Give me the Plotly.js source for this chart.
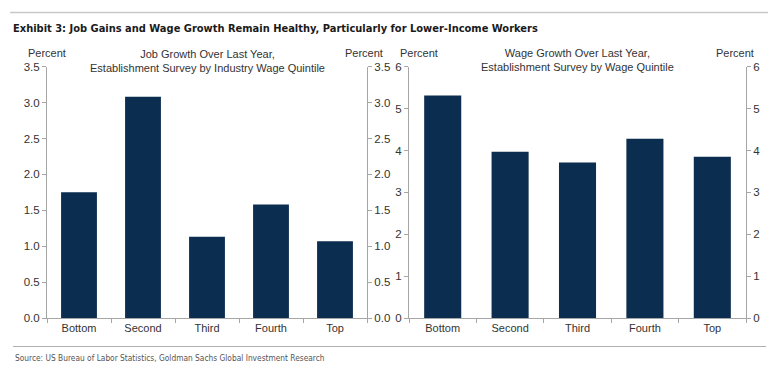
<!DOCTYPE html>
<html><head><meta charset="utf-8">
<script src="https://cdn.plot.ly/plotly-3.0.1.min.js"></script>
<style>body{margin:0;padding:0;background:#fff}#chart{width:778px;height:370px}</style>
</head><body><div id="chart"></div>
<script>
const categories = ["Bottom", "Second", "Third", "Fourth", "Top"];
const jobGrowth = [1.75, 3.08, 1.13, 1.58, 1.07];
const wageGrowth = [5.31, 3.97, 3.71, 4.28, 3.85];
const jobTicks = [0, 0.5, 1.0, 1.5, 2.0, 2.5, 3.0, 3.5];
const wageTicks = [0, 1, 2, 3, 4, 5, 6];

const barColor = "#0b2d4f";
const axisColor = "#a6a6a6";
const textColor = "#333333";
const fontFam = "Liberation Sans, Arial, sans-serif";
const condFam = "DejaVu Sans Condensed, sans-serif";

const traces = [
  {type: "bar", x: categories, y: jobGrowth, xaxis: "x", yaxis: "y", marker: {color: barColor}, width: 0.56, hoverinfo: "none"},
  {type: "scatter", mode: "markers", x: categories, y: jobGrowth, xaxis: "x", yaxis: "y2", marker: {opacity: 0}, hoverinfo: "none"},
  {type: "bar", x: categories, y: wageGrowth, xaxis: "x2", yaxis: "y3", marker: {color: barColor}, width: 0.55, hoverinfo: "none"},
  {type: "scatter", mode: "markers", x: categories, y: wageGrowth, xaxis: "x2", yaxis: "y4", marker: {opacity: 0}, hoverinfo: "none"}
];

const yb = 1 - 318/370, yt = 1 - 66.7/370;
function yax(range, ticks, side, anchor, overlay, fmt) {
  const a = {range: range, tickvals: ticks, ticktext: ticks.map(v => fmt(v)), side: side, anchor: anchor,
    domain: [yb, yt], showgrid: false, zeroline: false, showline: true, linecolor: axisColor, linewidth: 1,
    ticks: "outside", ticklen: 4, tickcolor: axisColor, tickfont: {family: fontFam, size: 11.5, color: textColor}, fixedrange: true};
  if (overlay) a.overlaying = overlay;
  return a;
}
function xax(domain, anchor) {
  return {domain: domain, anchor: anchor, type: "category", showgrid: false, zeroline: false, showline: true,
    linecolor: axisColor, linewidth: 1, ticks: "outside", tickson: "boundaries", ticklen: 4, tickcolor: axisColor,
    tickfont: {family: fontFam, size: 11, color: textColor}, fixedrange: true};
}
const f1 = v => v.toFixed(1), f0 = v => String(v);
const d1 = [47/778, 367/778], d2 = [409/778, 746/778];

const layout = {
  width: 778, height: 370, margin: {l: 0, r: 0, t: 0, b: 0}, showlegend: false,
  paper_bgcolor: "#fff", plot_bgcolor: "#fff", bargap: 0.44,
  xaxis: xax(d1, "y"),
  yaxis: yax([0, 3.5], jobTicks, "left", "x", null, f1),
  yaxis2: yax([0, 3.5], jobTicks, "right", "x", "y", f1),
  xaxis2: xax(d2, "y3"),
  yaxis3: yax([0, 6], wageTicks, "left", "x2", null, f0),
  yaxis4: yax([0, 6], wageTicks, "right", "x2", "y3", f0),
  shapes: [
    {type: "line", xref: "paper", yref: "paper", x0: 10/778, x1: 768/778, y0: 1 - 12.5/370, y1: 1 - 12.5/370, line: {color: "#c8c8c8", width: 1.5}},
    {type: "line", xref: "paper", yref: "paper", x0: 13/778, x1: 766/778, y0: 1 - 346.5/370, y1: 1 - 346.5/370, line: {color: "#b0b0b0", width: 1}}
  ],
  annotations: [
    {text: "<b>Exhibit 3: Job Gains and Wage Growth Remain Healthy, Particularly for Lower-Income Workers</b>", xref: "paper", yref: "paper",
     x: 11/778, y: 1 - 28/370, xanchor: "left", yanchor: "middle", showarrow: false,
     font: {family: condFam, size: 11, color: "#1a1a1a"}},
    {text: "Percent", xref: "paper", yref: "paper", x: 47/778, y: 1 - 53/370, xanchor: "center", yanchor: "middle", showarrow: false, font: {family: fontFam, size: 11, color: textColor}},
    {text: "Percent", xref: "paper", yref: "paper", x: 364/778, y: 1 - 53/370, xanchor: "center", yanchor: "middle", showarrow: false, font: {family: fontFam, size: 11, color: textColor}},
    {text: "Percent", xref: "paper", yref: "paper", x: 419/778, y: 1 - 53/370, xanchor: "center", yanchor: "middle", showarrow: false, font: {family: fontFam, size: 11, color: textColor}},
    {text: "Percent", xref: "paper", yref: "paper", x: 735/778, y: 1 - 53/370, xanchor: "center", yanchor: "middle", showarrow: false, font: {family: fontFam, size: 11, color: textColor}},
    {text: "Job Growth Over Last Year,<br>Establishment Survey by Industry Wage Quintile", xref: "paper", yref: "paper", x: 207/778, y: 1 - 61/370, xanchor: "center", yanchor: "middle", showarrow: false, font: {family: fontFam, size: 11, color: textColor}},
    {text: "Wage Growth Over Last Year,<br>Establishment Survey by Wage Quintile", xref: "paper", yref: "paper", x: 577/778, y: 1 - 60/370, xanchor: "center", yanchor: "middle", showarrow: false, font: {family: fontFam, size: 11, color: textColor}},
    {text: "Source: US Bureau of Labor Statistics, Goldman Sachs Global Investment Research", xref: "paper", yref: "paper", x: 13/778, y: 1 - 358/370, xanchor: "left", yanchor: "middle", showarrow: false, font: {family: condFam, size: 8.3, color: "#555"}}
  ]
};
Plotly.newPlot("chart", traces, layout, {displayModeBar: false, staticPlot: true});
</script></body></html>
